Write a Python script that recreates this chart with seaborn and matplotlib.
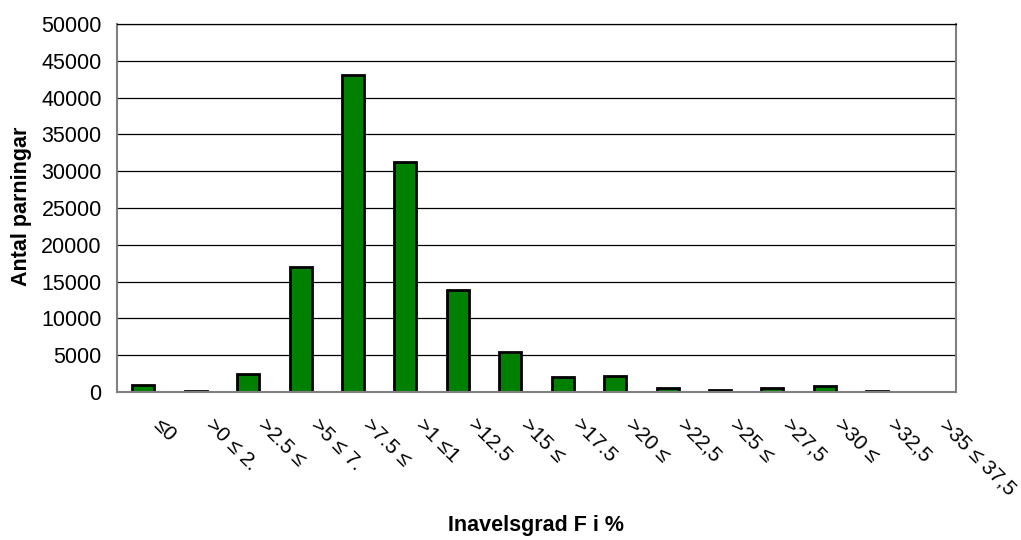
import numpy as np
import pandas as pd
import matplotlib
matplotlib.use('Agg')
import matplotlib.pyplot as plt
import matplotlib.transforms as mtransforms
import seaborn as sns

# Data
categories = ['≤0', '>0 ≤ 2.', '>2.5 ≤', '>5 ≤ 7.', '>7.5 ≤', '>1 ≤1', '>12.5', '>15 ≤',
              '>17.5', '>20 ≤', '>22,5', '>25 ≤', '>27,5', '>30 ≤', '>32,5', '>35 ≤ 37,5']
counts = [1000, 100, 2400, 17000, 43000, 31200, 13800, 5400,
          2100, 2200, 500, 250, 550, 750, 200, 50]

df = pd.DataFrame({'kategori': categories, 'antal': counts})

sns.set_style('white')
plt.rcParams['font.family'] = ['Liberation Sans', 'DejaVu Sans']
plt.rcParams['text.color'] = 'black'
plt.rcParams['axes.labelcolor'] = 'black'
plt.rcParams['xtick.color'] = 'black'
plt.rcParams['ytick.color'] = 'black'

fig = plt.figure(figsize=(10.21, 5.40), dpi=100)
ax = fig.add_axes([0.1146, 0.2741, 0.8217, 0.6815])

sns.barplot(data=df, x='kategori', y='antal', color='#008000', saturation=1,
            edgecolor='black', linewidth=2, width=0.42, ax=ax)

ax.set_ylim(0, 50000)
ax.set_xlim(-0.5, len(categories) - 0.5)
ax.set_yticks(np.arange(0, 50001, 5000))
ax.yaxis.grid(True, color='black', linewidth=0.9)
ax.set_axisbelow(True)

ax.set_xticks(np.arange(len(categories)))
ax.set_xticks(np.arange(-0.5, len(categories)), minor=True)
ax.tick_params(axis='x', which='major', length=0, pad=17)
ax.tick_params(axis='x', which='minor', length=5, color='#808080', direction='out')
ax.tick_params(axis='y', length=5, color='#808080', labelcolor='black', direction='out',
               labelsize=15.5, pad=6)
ax.set_xticklabels(categories, rotation=-45, ha='left', va='top', rotation_mode='anchor',
                   fontsize=15, color='black')

# shift rotated labels to the right, like the reference
offset = mtransforms.ScaledTranslation(20 / 100, 0, fig.dpi_scale_trans)
for lbl in ax.get_xticklabels():
    lbl.set_transform(lbl.get_transform() + offset)

for side in ['left', 'right', 'bottom']:
    ax.spines[side].set_color('#808080')
    ax.spines[side].set_linewidth(1.5)
ax.spines['top'].set_color('black')
ax.spines['top'].set_linewidth(0.9)

ax.set_xlabel('Inavelsgrad F i %', fontsize=15.5, fontweight='bold', labelpad=0)
ax.xaxis.set_label_coords(0.5, -0.333)
ax.set_ylabel('Antal parningar', fontsize=15.5, fontweight='bold')
ax.yaxis.set_label_coords(-0.101, 0.505)

fig.savefig('out.png', dpi=100)
